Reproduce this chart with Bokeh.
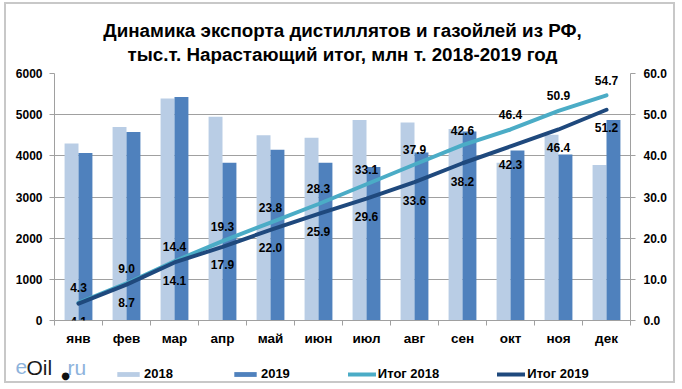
from bokeh.plotting import figure
from bokeh.layouts import column
from bokeh.models import (Range1d, LinearAxis, FixedTicker, NumeralTickFormatter,
                          ColumnDataSource, LabelSet, Legend, LegendItem,
                          CustomJSTickFormatter)
from bokeh.transform import dodge
from bokeh.core.properties import value
from bokeh.embed import file_html
from bokeh.resources import INLINE

# ---- data ----
months = ["янв", "фев", "мар", "апр", "май", "июн", "июл", "авг", "сен", "окт", "ноя", "дек"]
exp_2018 = [4300, 4700, 5390, 4950, 4500, 4440, 4870, 4810, 4650, 3830, 4510, 3780]
exp_2019 = [4070, 4580, 5430, 3830, 4150, 3830, 3730, 4080, 4590, 4130, 4030, 4870]
cum_2018 = [4.3, 9.0, 14.4, 19.3, 23.8, 28.3, 33.1, 37.9, 42.6, 46.4, 50.9, 54.7]
cum_2019 = [4.1, 8.7, 14.1, 17.9, 22.0, 25.9, 29.6, 33.6, 38.2, 42.3, 46.4, 51.2]
left_ticks = [0, 1000, 2000, 3000, 4000, 5000, 6000]
right_ticks = [0, 10, 20, 30, 40, 50, 60]
title_lines = ["Динамика экспорта дистиллятов и газойлей из РФ,",
               "тыс.т. Нарастающий итог, млн т. 2018-2019 год"]
series_names = ["2018", "2019", "Итог 2018", "Итог 2019"]
logo_parts = ["e", "Oil", "ru"]

FONT = "Liberation Sans"
GRAY = "#a0a0a0"
C18, C19, L18, L19 = "#b9cde5", "#4f81bd", "#4bacc6", "#1f497d"
W = 667


def no_frame_align(f):
    if "frame_align" in f.properties():
        f.frame_align = False


def blank(height):
    f = figure(width=W, height=height, x_range=Range1d(0, W), y_range=Range1d(height, 0),
               x_axis_type=None, y_axis_type=None, output_backend="svg",
               toolbar_location=None, min_border=0)
    f.outline_line_color = None
    no_frame_align(f)
    return f


# ---- title strip ----
p0 = blank(60)
p0.text(x=[336, 336], y=[26, 49.5], text=title_lines, text_align="center",
        text_baseline="alphabetic", text_font=value(FONT), text_font_size="18.8px",
        text_font_style="bold", text_color="black")

# ---- main chart ----
xc = [i + 0.5 for i in range(len(months))]
src = ColumnDataSource(dict(
    x=xc, e18=exp_2018, e19=exp_2019, c18=cum_2018, c19=cum_2019,
    t18=[f"{v:.1f}" for v in cum_2018], t19=[f"{v:.1f}" for v in cum_2019],
))

p = figure(width=W, height=286, x_range=Range1d(0, len(months)),
           y_range=Range1d(0, 6000), output_backend="svg", toolbar_location=None,
           min_border_left=48, min_border_right=43, min_border_top=9,
           min_border_bottom=30)
p.extra_y_ranges = {"cum": Range1d(0, 60)}
p.outline_line_color = None
no_frame_align(p)

xa = p.xaxis[0]
xa.ticker = FixedTicker(ticks=xc, minor_ticks=list(range(len(months) + 1)))
xa.formatter = CustomJSTickFormatter(args=dict(m=months), code="return m[Math.floor(tick)]")
xa.major_tick_line_color = None
xa.major_tick_out = 5
xa.major_tick_in = 0
xa.minor_tick_out = 5
xa.minor_tick_in = 0
xa.minor_tick_line_color = GRAY
xa.axis_line_color = GRAY
xa.major_label_standoff = 5
xa.major_label_text_font = FONT
xa.major_label_text_font_size = "13.5px"
xa.major_label_text_font_style = "bold"
xa.major_label_text_color = "black"

ya = p.yaxis[0]
ya.ticker = FixedTicker(ticks=left_ticks, minor_ticks=[])
ya.major_tick_out = 5
ya.major_tick_in = 0
ya.major_tick_line_color = GRAY
ya.axis_line_color = GRAY
ya.major_label_standoff = 7
ya.major_label_text_font = FONT
ya.major_label_text_font_size = "12px"
ya.major_label_text_font_style = "bold"
ya.major_label_text_color = "black"

ra = LinearAxis(y_range_name="cum", ticker=FixedTicker(ticks=right_ticks, minor_ticks=[]),
                formatter=NumeralTickFormatter(format="0.0"))
ra.major_tick_out = 5
ra.major_tick_in = 0
ra.major_tick_line_color = GRAY
ra.axis_line_color = GRAY
ra.major_label_standoff = 8
ra.major_label_text_font = FONT
ra.major_label_text_font_size = "12px"
ra.major_label_text_font_style = "bold"
ra.major_label_text_color = "black"
p.add_layout(ra, "right")

p.xgrid.visible = False
p.ygrid.grid_line_color = GRAY
p.ygrid.ticker = FixedTicker(ticks=left_ticks)

p.vbar(x=dodge("x", -0.145, range=p.x_range), top="e18", width=0.29, source=src,
       fill_color=C18, line_color=None)
p.vbar(x=dodge("x", 0.145, range=p.x_range), top="e19", width=0.29, source=src,
       fill_color=C19, line_color=None)
p.line(x="x", y="c18", source=src, y_range_name="cum", line_width=4,
       line_color=L18, line_cap="round", line_join="round")
p.line(x="x", y="c19", source=src, y_range_name="cum", line_width=4,
       line_color=L19, line_cap="round", line_join="round")

for tcol, ycol, off in (("t18", "c18", 15), ("t19", "c19", -18)):
    p.add_layout(LabelSet(x="x", y=ycol, text=tcol, source=src, y_range_name="cum",
                          y_offset=off, text_align="center", text_baseline="middle",
                          text_font=value(FONT), text_font_size="12px",
                          text_font_style="bold", text_color="black"))

# ---- legend / logo strip ----
p2 = blank(31)
# legend keys: placeholder renderers kept outside the visible range
r1 = p2.vbar(x=[-50], top=[0], width=1, fill_color=C18, line_color=None)
r2 = p2.vbar(x=[-50], top=[0], width=1, fill_color=C19, line_color=None)
r3 = p2.line(x=[-60, -50], y=[-50, -50], line_width=4, line_color=L18, line_cap="round")
r4 = p2.line(x=[-60, -50], y=[-50, -50], line_width=4, line_color=L19, line_cap="round")
legend = Legend(items=[LegendItem(label=n, renderers=[r]) for n, r in
                       zip(series_names, [r1, r2, r3, r4])],
                location=(108, 0), orientation="horizontal", spacing=58,
                glyph_width=28, glyph_height=6, label_height=14, label_standoff=2,
                padding=0, margin=0, border_line_color=None, background_fill_alpha=0,
                label_text_font=FONT, label_text_font_size="13px",
                label_text_font_style="bold", label_text_color="black")
p2.add_layout(legend, "center")

p2.text(x=[9, 20, 61], y=[16.7, 16.7, 16.7], text=logo_parts,
        text_color=["#8db3dc", "#1a1a1a", "#8db3dc"], text_align="left",
        text_baseline="alphabetic", text_font=value(FONT), text_font_size="21px")
p2.text(x=[59], y=[24.5], text=["●"], text_color="#111111", text_align="center",
        text_baseline="middle", text_font=value("DejaVu Sans"), text_font_size="10px")

layout = column(p0, p, p2, spacing=0,
                styles={"border": "2px solid #c8c8c8", "margin-left": "4px",
                        "margin-top": "2px"})

open("out.html", "w").write(file_html(layout, INLINE))
